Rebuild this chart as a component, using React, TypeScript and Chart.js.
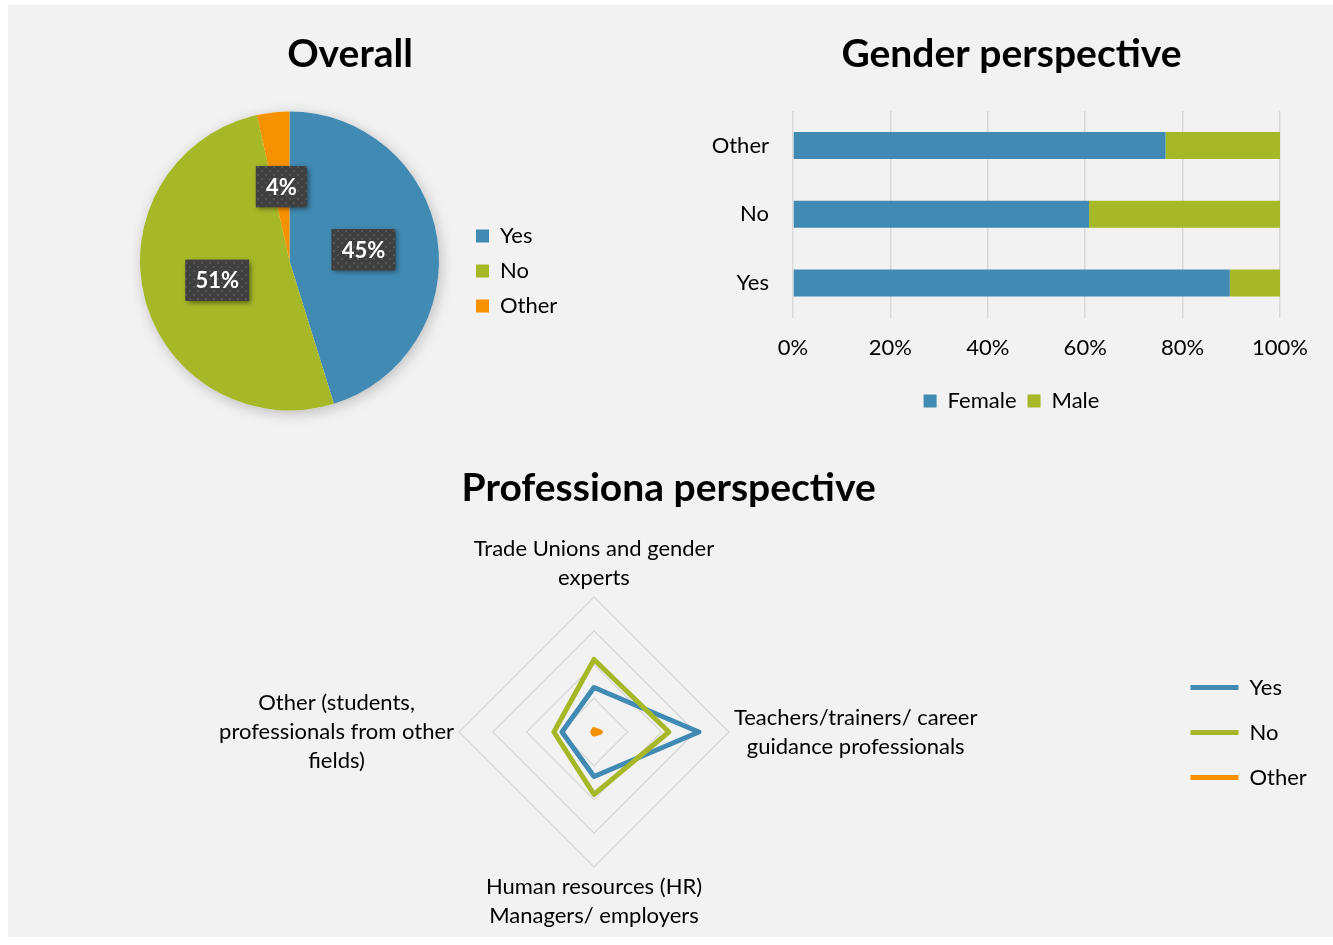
import { useEffect, useRef } from 'react';
import { Chart, registerables } from 'chart.js';

Chart.register(...registerables);
Chart.defaults.font.family = 'Lato';
Chart.defaults.color = '#000';

// ---------- data ----------
const overallLabels = ['Yes', 'No', 'Other'];
const overallValues = [45.2, 51.3, 3.5];

const genderCategories = ['Other', 'No', 'Yes'];
const genderSeries = ['Female', 'Male'];
const genderFemale = [76.5, 60.8, 89.7];
const genderMale = [23.5, 39.2, 10.3];

const professionAxes = [
  ['Trade Unions and gender', 'experts'],
  ['Teachers/trainers/ career', 'guidance professionals'],
  ['Human resources (HR)', 'Managers/ employers'],
  ['Other (students,', 'professionals from other', 'fields)'],
];
const professionSeries = ['Yes', 'No', 'Other'];
const professionYes = [13.2, 31.1, 13.2, 9.5];
const professionNo = [21.5, 22.2, 18.5, 11.9];
const professionOther = [0.7, 1.9, 0.6, 0.4];

// ---------- style ----------
const BLUE = '#418AB3';
const GREEN = '#A6B727';
const ORANGE = '#F69200';
const GRID = '#D9D9D9';
const BG = '#F2F2F2';
const BODY = 22;
const LABEL_LH = 1.32;
const TITLE_FONT = { size: 39, weight: 'bold' as const, lineHeight: 1.2 };

function measure(text: string, font: string) {
  const c = document.createElement('canvas').getContext('2d')!;
  c.font = font;
  return c.measureText(text).width;
}

const PIE_W = 684;
const PIE_H = 435;
const BAR_W = 643;
const BAR_H = 435;
const RADAR_W = 1325;
const RADAR_H = 497;

export default function App() {
  const pieRef = useRef<HTMLCanvasElement>(null);
  const barRef = useRef<HTMLCanvasElement>(null);
  const radarRef = useRef<HTMLCanvasElement>(null);

  useEffect(() => {
    const charts: Chart[] = [];
    const bodyFont = `normal ${BODY}px Lato`;

    // ---------- pie ----------
    const pieAreaLeft = 108;
    const pieAreaRight = 455;
    const pieLegendPad = 13;
    const pieBox = 13;
    const pieWidest = Math.max(...overallLabels.map((t) => measure(t, bodyFont)));
    const pieLegendW = pieLegendPad + pieBox + BODY / 2 + pieWidest + 10;
    const pieRightPad = PIE_W - pieAreaRight - pieLegendW;

    const tile = document.createElement('canvas');
    tile.width = 8;
    tile.height = 8;
    const tctx = tile.getContext('2d')!;
    tctx.fillStyle = '#3f3f3f';
    tctx.fillRect(0, 0, 8, 8);
    tctx.fillStyle = '#555555';
    tctx.fillRect(1, 1, 2, 2);
    tctx.fillRect(5, 5, 2, 2);

    const pieShadow = {
      id: 'pieShadow',
      beforeDatasetsDraw(chart: any) {
        const arc = chart.getDatasetMeta(0).data[0];
        if (!arc) return;
        const ctx = chart.ctx;
        ctx.save();
        ctx.shadowColor = 'rgba(0,0,0,0.22)';
        ctx.shadowBlur = 14;
        ctx.shadowOffsetX = 2;
        ctx.shadowOffsetY = 3;
        ctx.beginPath();
        ctx.arc(arc.x, arc.y, arc.outerRadius, 0, Math.PI * 2);
        ctx.fillStyle = BG;
        ctx.fill();
        ctx.restore();
      },
    };

    const pieLabels = {
      id: 'pieLabels',
      afterDatasetsDraw(chart: any) {
        const ctx = chart.ctx;
        const pattern = ctx.createPattern(tile, 'repeat');
        chart.getDatasetMeta(0).data.forEach((arc: any, i: number) => {
          const { x, y } = arc.getCenterPoint();
          const text = Math.round(overallValues[i]) + '%';
          ctx.save();
          ctx.font = `bold ${BODY}px Lato`;
          const tw = ctx.measureText(text).width;
          const w = tw + 20;
          const h = 41;
          ctx.shadowColor = 'rgba(0,0,0,0.5)';
          ctx.shadowBlur = 5;
          ctx.shadowOffsetX = 2;
          ctx.shadowOffsetY = 2;
          ctx.fillStyle = '#3f3f3f';
          ctx.fillRect(x - w / 2, y - h / 2, w, h);
          ctx.shadowColor = 'transparent';
          ctx.fillStyle = pattern;
          ctx.fillRect(x - w / 2, y - h / 2, w, h);
          ctx.fillStyle = '#ffffff';
          ctx.textAlign = 'center';
          ctx.textBaseline = 'middle';
          ctx.fillText(text, x, y + 1);
          ctx.restore();
        });
      },
    };

    const padScale = (pos: 'left' | 'right', width: number, weight: number) => ({
      type: 'linear',
      position: pos,
      display: true,
      weight,
      grid: { display: false, drawTicks: false },
      border: { display: false },
      ticks: { display: false },
      afterFit: (s: any) => {
        s.width = width;
      },
    });

    if (pieRef.current) {
      charts.push(
        new Chart(pieRef.current, {
          type: 'pie',
          data: {
            labels: overallLabels,
            datasets: [
              {
                data: overallValues,
                backgroundColor: [BLUE, GREEN, ORANGE],
                borderWidth: 0,
                hoverOffset: 0,
              },
            ],
          },
          options: {
            responsive: false,
            animation: false,
            layout: { padding: { left: 0, right: 0, top: 0, bottom: 29.5 } },
            scales: {
              padLeft: padScale('left', pieAreaLeft, 0),
              padRight: padScale('right', pieRightPad, 2000),
            } as any,
            plugins: {
              title: {
                display: true,
                text: 'Overall',
                font: TITLE_FONT,
                color: '#000',
                padding: { top: 25.6, bottom: 34.1 },
              },
              legend: {
                position: 'right',
                fullSize: false,
                align: 'center',
                title: { display: true, text: '', padding: 0, font: { size: 20, lineHeight: 1 } },
                labels: {
                  boxWidth: pieBox,
                  boxHeight: pieBox,
                  padding: pieLegendPad,
                  font: { size: BODY },
                  color: '#000',
                },
              },
              tooltip: { enabled: false },
            },
          } as any,
          plugins: [pieShadow, pieLabels],
        })
      );
    }

    // ---------- stacked bar ----------
    if (barRef.current) {
      charts.push(
        new Chart(barRef.current, {
          type: 'bar',
          data: {
            labels: genderCategories,
            datasets: [
              {
                label: genderSeries[0],
                data: genderFemale,
                backgroundColor: BLUE,
                borderWidth: 0,
                barPercentage: 0.49,
                categoryPercentage: 0.8,
              },
              {
                label: genderSeries[1],
                data: genderMale,
                backgroundColor: GREEN,
                borderWidth: 0,
                barPercentage: 0.49,
                categoryPercentage: 0.8,
              },
            ],
          },
          options: {
            indexAxis: 'y',
            responsive: false,
            animation: false,
            layout: { padding: { left: 0, right: 0, top: 0, bottom: 18 } },
            scales: {
              x: {
                stacked: true,
                min: 0,
                max: 100,
                ticks: {
                  stepSize: 20,
                  callback: (v: any) => v + '%',
                  font: { size: BODY },
                  color: '#000',
                  padding: 17.3,
                },
                grid: { color: GRID, lineWidth: 1.5, drawTicks: false },
                border: { display: false },
                afterFit: (s: any) => {
                  s.height = 61.5;
                  s.paddingRight = 53;
                },
              },
              y: {
                stacked: true,
                grid: { display: false, drawTicks: false },
                border: { display: false },
                ticks: { font: { size: BODY }, color: '#000', padding: 24 },
                afterFit: (s: any) => {
                  s.width = 103;
                },
              },
            },
            plugins: {
              title: {
                display: true,
                text: 'Gender perspective',
                font: TITLE_FONT,
                color: '#000',
                padding: { top: 25.6, bottom: 33.6 },
              },
              legend: {
                position: 'bottom',
                labels: {
                  boxWidth: 13,
                  boxHeight: 13,
                  padding: 11,
                  font: { size: BODY },
                  color: '#000',
                },
              },
              tooltip: { enabled: false },
            },
          } as any,
        })
      );
    }

    // ---------- radar ----------
    const radarLegendPad = 23;
    const radarLine = 48;
    const radarWidest = Math.max(...professionSeries.map((t) => measure(t, bodyFont)));
    const radarLegendW = radarLegendPad + radarLine + BODY / 2 + radarWidest + 10;
    const radarAreaLeft = 12.5;
    const radarAreaRight = 1159.5;
    const radarRightPad = RADAR_W - radarAreaRight - radarLegendW;

    const line = (label: string, data: number[], color: string, order: number) => ({
      label,
      data,
      borderColor: color,
      backgroundColor: color,
      borderWidth: 5,
      fill: false,
      pointRadius: 0,
      pointHoverRadius: 0,
      borderJoinStyle: 'round',
      borderCapStyle: 'round',
      order,
    });

    // point labels centred line by line, in the boxes the radial scale reserved for them
    const centredPointLabels = {
      id: 'centredPointLabels',
      afterDraw(chart: any) {
        const scale = chart.scales.r;
        const ctx = chart.ctx;
        const lh = BODY * LABEL_LH;
        ctx.save();
        ctx.font = bodyFont;
        ctx.fillStyle = '#000';
        ctx.textAlign = 'center';
        ctx.textBaseline = 'middle';
        professionAxes.forEach((lines, i) => {
          const pos = scale.getPointLabelPosition(i);
          const cx = (pos.left + pos.right) / 2;
          lines.forEach((t, k) => ctx.fillText(t, cx, pos.top + lh * (k + 0.5)));
        });
        ctx.restore();
      },
    };

    if (radarRef.current) {
      charts.push(
        new Chart(radarRef.current, {
          type: 'radar',
          data: {
            labels: professionAxes,
            datasets: [
              line(professionSeries[0], professionYes, BLUE, 1),
              line(professionSeries[1], professionNo, GREEN, 0),
              line(professionSeries[2], professionOther, ORANGE, -1),
            ],
          } as any,
          options: {
            responsive: false,
            animation: false,
            layout: { padding: { left: radarAreaLeft, right: radarRightPad, top: 0, bottom: 6 } },
            scales: {
              r: {
                min: 0,
                max: 40,
                ticks: { display: false, stepSize: 10 },
                grid: { color: GRID, lineWidth: 1.5, circular: false },
                angleLines: { display: false },
                pointLabels: {
                  font: { size: BODY, lineHeight: LABEL_LH },
                  color: 'rgba(0,0,0,0)',
                  padding: 5,
                },
              },
            },
            plugins: {
              title: {
                display: true,
                text: 'Professiona perspective',
                font: TITLE_FONT,
                color: '#000',
                padding: { top: 24.6, bottom: 22.6 },
              },
              legend: {
                position: 'right',
                fullSize: false,
                align: 'center',
                labels: {
                  usePointStyle: true,
                  pointStyle: 'line',
                  pointStyleWidth: radarLine,
                  padding: radarLegendPad,
                  font: { size: BODY },
                  color: '#000',
                  sort: (a: any, b: any) => a.datasetIndex - b.datasetIndex,
                },
              },
              tooltip: { enabled: false },
            },
          } as any,
          plugins: [centredPointLabels],
        })
      );
    }

    return () => charts.forEach((c) => c.destroy());
  }, []);

  return (
    <div
      style={{
        position: 'absolute',
        left: 8,
        top: 5,
        width: 1325,
        height: 932,
        background: BG,
        overflow: 'hidden',
      }}
    >
      <canvas
        ref={pieRef}
        width={PIE_W}
        height={PIE_H}
        style={{ position: 'absolute', left: 0, top: 0, width: PIE_W, height: PIE_H }}
      />
      <canvas
        ref={barRef}
        width={BAR_W}
        height={BAR_H}
        style={{ position: 'absolute', left: 682, top: 0, width: BAR_W, height: BAR_H }}
      />
      <canvas
        ref={radarRef}
        width={RADAR_W}
        height={RADAR_H}
        style={{ position: 'absolute', left: 0, top: 435, width: RADAR_W, height: RADAR_H }}
      />
    </div>
  );
}
